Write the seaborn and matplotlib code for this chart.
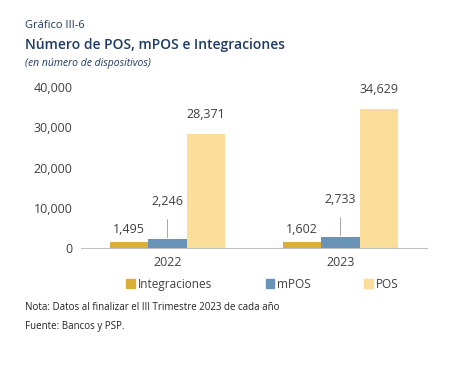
import numpy as np
import pandas as pd
import seaborn as sns
import matplotlib.pyplot as plt

# %% data
years = ['2022', '2023']
series = ['Integraciones', 'mPOS', 'POS']
integraciones = [1495, 1602]
mpos = [2246, 2733]
pos = [28371, 34629]
yticks = [0, 10000, 20000, 30000, 40000]

df = pd.DataFrame({
    'year': years * 3,
    'serie': [s for s in series for _ in years],
    'valor': integraciones + mpos + pos,
})

palette = {'Integraciones': '#D9AF36', 'mPOS': '#6892B6', 'POS': '#F9DD98'}
txt = '#404040'
navy = '#1F3B63'

# %% figure
sns.set_style('white')
plt.rcParams['font.family'] = ['Open Sans', 'DejaVu Sans']

fig = plt.figure(figsize=(4.49, 3.85), dpi=100)
ax = fig.add_axes([0.1804, 0.3558, 0.7706, 0.4182])

sns.barplot(data=df, x='year', y='valor', hue='serie', hue_order=series,
            palette=palette, width=0.67, saturation=1, linewidth=0,
            ax=ax, legend=False)

ax.set_ylim(0, 40000)
ax.set_xlim(-0.5, 1.5)
ax.set_yticks(yticks)
ax.set_yticklabels([f'{v:,}' for v in yticks], color=txt, fontsize=9)
ax.set_xticklabels(years, color=txt, fontsize=9)
ax.tick_params(axis='both', length=0, pad=6)
ax.set_xlabel('')
ax.set_ylabel('')
sns.despine(ax=ax, left=True)
ax.spines['bottom'].set_color('#BFBFBF')
ax.spines['bottom'].set_linewidth(0.8)

# value labels
offsets = {'Integraciones': 9, 'mPOS': 27, 'POS': 14}
for serie, cont in zip(series, ax.containers):
    for bar in cont:
        h = bar.get_height()
        xc = bar.get_x() + bar.get_width() / 2
        if serie == 'mPOS':
            ax.annotate(f'{h:,.0f}', xy=(xc, h), xytext=(0, offsets[serie]),
                        textcoords='offset points', ha='center', va='center',
                        fontsize=9, color=txt,
                        arrowprops=dict(arrowstyle='-', color='#A6A6A6', lw=0.7,
                                        shrinkA=6, shrinkB=1))
        else:
            ax.annotate(f'{h:,.0f}', xy=(xc, h), xytext=(0, offsets[serie]),
                        textcoords='offset points', ha='center', va='center',
                        fontsize=9, color=txt)

# legend
handles = [plt.Rectangle((0, 0), 1, 1, color=palette[s]) for s in series]
fig.legend(handles, series, loc='center', bbox_to_anchor=(0.585, 0.262), ncol=3,
           frameon=False, fontsize=8.5, handlelength=0.7, handleheight=0.7,
           handletextpad=0.3, columnspacing=4.5, labelcolor=txt)

# titles
fig.text(0.056, 0.935, 'Gráfico III-6', fontsize=8, color=navy, va='center')
fig.text(0.056, 0.883, 'Número de POS, mPOS e Integraciones', fontsize=10,
         color=navy, va='center', fontweight='semibold')
fig.text(0.056, 0.836, '(en número de dispositivos)', fontsize=7.5,
         color=navy, va='center', style='italic')

fig.text(0.056, 0.2, 'Nota: Datos al finalizar el III Trimestre 2023 de cada año',
         fontsize=7, color='#222222', va='center')
fig.text(0.056, 0.151, 'Fuente: Bancos y PSP.', fontsize=7, color='#222222', va='center')

fig.savefig('out.png', dpi=100)
